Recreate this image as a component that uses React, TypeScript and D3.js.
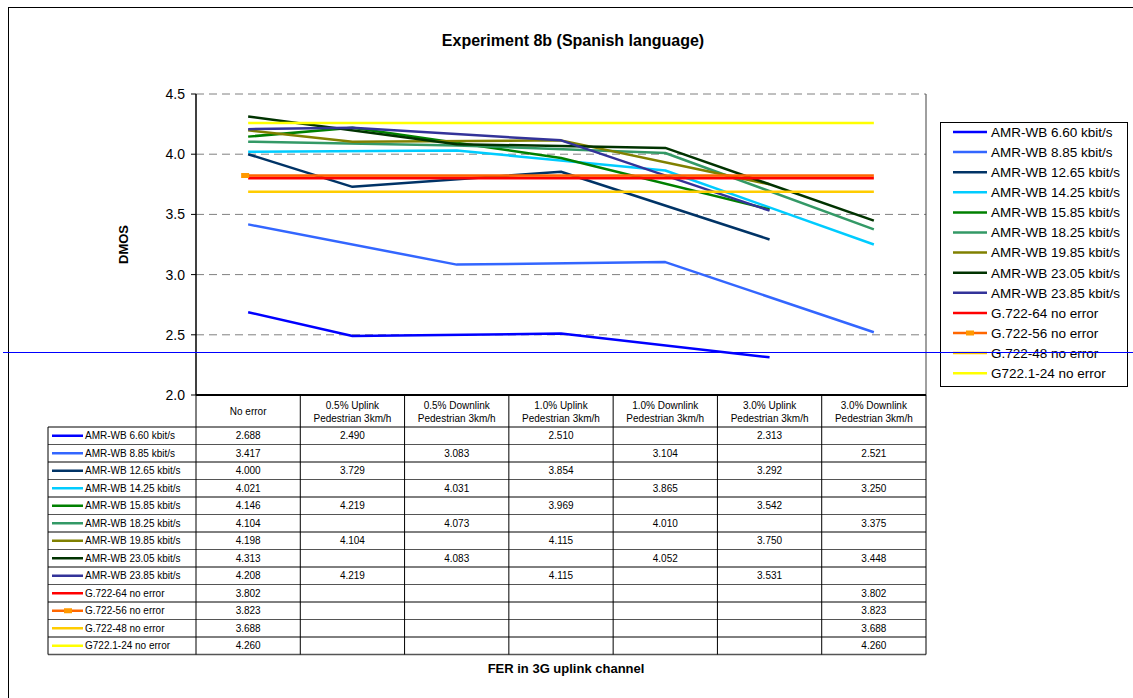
import React from "react";
import * as d3 from "d3";

const catLine1 = ["No error", "0.5% Uplink", "0.5% Downlink", "1.0% Uplink", "1.0% Downlink", "3.0% Uplink", "3.0% Downlink"];
const catLine2 = ["", "Pedestrian 3km/h", "Pedestrian 3km/h", "Pedestrian 3km/h", "Pedestrian 3km/h", "Pedestrian 3km/h", "Pedestrian 3km/h"];

const seriesNames = [
  "AMR-WB 6.60 kbit/s",
  "AMR-WB 8.85 kbit/s",
  "AMR-WB 12.65 kbit/s",
  "AMR-WB 14.25 kbit/s",
  "AMR-WB 15.85 kbit/s",
  "AMR-WB 18.25 kbit/s",
  "AMR-WB 19.85 kbit/s",
  "AMR-WB 23.05 kbit/s",
  "AMR-WB 23.85 kbit/s",
  "G.722-64 no error",
  "G.722-56 no error",
  "G.722-48 no error",
  "G722.1-24 no error",
];

const seriesColors = [
  "#0000FF", "#3366FF", "#003366", "#00CCFF", "#008000", "#339966", "#808000",
  "#003300", "#333399", "#FF0000", "#FF6600", "#FFCC00", "#FFFF00",
];

const N = null;
const amr660 = [2.688, 2.490, N, 2.510, N, 2.313, N];
const amr885 = [3.417, N, 3.083, N, 3.104, N, 2.521];
const amr1265 = [4.000, 3.729, N, 3.854, N, 3.292, N];
const amr1425 = [4.021, N, 4.031, N, 3.865, N, 3.250];
const amr1585 = [4.146, 4.219, N, 3.969, N, 3.542, N];
const amr1825 = [4.104, N, 4.073, N, 4.010, N, 3.375];
const amr1985 = [4.198, 4.104, N, 4.115, N, 3.750, N];
const amr2305 = [4.313, N, 4.083, N, 4.052, N, 3.448];
const amr2385 = [4.208, 4.219, N, 4.115, N, 3.531, N];
const g722_64 = [3.802, N, N, N, N, N, 3.802];
const g722_56 = [3.823, N, N, N, N, N, 3.823];
const g722_48 = [3.688, N, N, N, N, N, 3.688];
const g7221_24 = [4.260, N, N, N, N, N, 4.260];

const seriesValues = [amr660, amr885, amr1265, amr1425, amr1585, amr1825, amr1985, amr2305, amr2385, g722_64, g722_56, g722_48, g7221_24];

const yTicks = [2.0, 2.5, 3.0, 3.5, 4.0, 4.5];

const FONT = "'Liberation Sans', Arial, sans-serif";

export default function App() {
  const plotL = 196, plotR = 926, plotT = 94, plotB = 395;
  const y = d3.scaleLinear().domain([2.0, 4.5]).range([plotB, plotT]);
  const xBand = d3.scaleBand<number>().domain(d3.range(catLine1.length)).range([plotL, plotR]).paddingInner(0).paddingOuter(0);
  const xc = (i: number) => (xBand(i) as number) + xBand.bandwidth() / 2;

  const tableL = 48, headB = 427, rowH = 17.5;
  const tableB = headB + rowH * seriesNames.length;
  const colEdges = d3.range(catLine1.length + 1).map((i) => plotL + i * xBand.bandwidth());

  const lineGen = d3.line<[number, number]>().x((d) => xc(d[0])).y((d) => y(d[1]));

  const legendX = 940, legendY = 122, legendW = 187, legendH = 264;
  const legendStep = 20.1;

  return (
    <svg width={1133} height={698} style={{ position: "absolute", left: 0, top: 0, background: "#fff" }} fontFamily={FONT}>
      <rect x={0} y={0} width={1133} height={698} fill="#fff" />
      <rect x={8.5} y={7.5} width={1140} height={720} fill="none" stroke="#000" strokeWidth={1} />

      <text x={573} y={46} textAnchor="middle" fontSize={16} fontWeight="bold">Experiment 8b (Spanish language)</text>

      {/* gridlines */}
      {yTicks.filter((t) => t > 2.0).map((t) => (
        <line key={"g" + t} x1={plotL} x2={plotR} y1={y(t)} y2={y(t)} stroke="#808080" strokeWidth={1} strokeDasharray="8,5" />
      ))}
      {/* right border of plot */}
      <line x1={plotR} x2={plotR} y1={plotT} y2={plotB} stroke="#404040" strokeWidth={1} />

      {/* y axis */}
      <line x1={plotL} x2={plotL} y1={plotT} y2={plotB} stroke="#000" strokeWidth={1.5} />
      {yTicks.map((t) => (
        <g key={"t" + t}>
          <line x1={plotL - 5} x2={plotL} y1={y(t)} y2={y(t)} stroke="#000" strokeWidth={1} />
          <text x={plotL - 11} y={y(t)} dy="0.36em" textAnchor="end" fontSize={14}>{t.toFixed(1)}</text>
        </g>
      ))}
      <text transform={`translate(128,${(plotT + plotB) / 2}) rotate(-90)`} textAnchor="middle" fontSize={13} fontWeight="bold">DMOS</text>

      {/* series lines */}
      {seriesValues.map((vals, si) => {
        const pts: [number, number][] = vals.map((v, i) => [i, v] as [number, number | null]).filter((p) => p[1] != null) as [number, number][];
        return (
          <path key={"s" + si} d={lineGen(pts) || ""} fill="none" stroke={seriesColors[si]} strokeWidth={si === 9 ? 3 : 2.5} strokeLinejoin="round" />
        );
      })}
      {/* G.722-56 marker at first point */}
      <rect x={xc(0) - 7} y={y(g722_56[0] as number) - 2.5} width={8} height={5} fill="#FF9900" />

      {/* x axis line */}
      <line x1={plotL} x2={plotR} y1={plotB} y2={plotB} stroke="#000" strokeWidth={2} />

      {/* table header */}
      {catLine1.map((c, i) => (
        <g key={"h" + i}>
          {catLine2[i] === "" ? (
            <text x={xc(i)} y={(plotB + headB) / 2} dy="0.35em" textAnchor="middle" fontSize={10}>{c}</text>
          ) : (
            <>
              <text x={xc(i)} y={405} dy="0.35em" textAnchor="middle" fontSize={10}>{c}</text>
              <text x={xc(i)} y={418} dy="0.35em" textAnchor="middle" fontSize={10}>{catLine2[i]}</text>
            </>
          )}
        </g>
      ))}
      {colEdges.map((xe, i) => (
        <line key={"hc" + i} x1={xe} x2={xe} y1={plotB} y2={headB} stroke="#000" strokeWidth={1} />
      ))}

      {/* table body */}
      {d3.range(seriesNames.length + 1).map((r) => (
        <line key={"rl" + r} x1={tableL} x2={plotR} y1={headB + r * rowH} y2={headB + r * rowH} stroke={r % 2 === 0 ? "#000" : "#555"} strokeWidth={r === seriesNames.length ? 1.5 : 1} />
      ))}
      {[tableL, ...colEdges].map((xe, i) => (
        <line key={"bc" + i} x1={xe} x2={xe} y1={headB} y2={tableB} stroke="#000" strokeWidth={1} />
      ))}
      {seriesNames.map((name, si) => {
        const cy = headB + si * rowH + rowH / 2;
        return (
          <g key={"row" + si}>
            <line x1={52} x2={83} y1={cy} y2={cy} stroke={seriesColors[si]} strokeWidth={2.5} />
            {si === 10 && <rect x={64} y={cy - 2.5} width={8} height={5} fill="#FF9900" />}
            <text x={85} y={cy} dy="0.35em" fontSize={10}>{name}</text>
            {seriesValues[si].map((v, i) => v == null ? null : (
              <text key={"v" + i} x={xc(i)} y={cy} dy="0.35em" textAnchor="middle" fontSize={10}>{v.toFixed(3)}</text>
            ))}
          </g>
        );
      })}

      <text x={566} y={668} dy="0.35em" textAnchor="middle" fontSize={13} fontWeight="bold">FER in 3G uplink channel</text>

      {/* legend */}
      <rect x={legendX + 0.5} y={legendY + 0.5} width={legendW} height={legendH} fill="#fff" stroke="#000" strokeWidth={1} />
      {seriesNames.map((name, si) => {
        const cy = 132 + si * legendStep;
        return (
          <g key={"lg" + si}>
            <line x1={953} x2={987} y1={cy} y2={cy} stroke={seriesColors[si]} strokeWidth={2.5} />
            {si === 10 && <rect x={966} y={cy - 2.5} width={8} height={5} fill="#FF9900" />}
            <text x={991} y={cy} dy="0.36em" fontSize={13.5}>{name}</text>
          </g>
        );
      })}

      {/* stray horizontal line present in the reference */}
      <line x1={3} x2={1133} y1={352.5} y2={352.5} stroke="#0000FF" strokeWidth={1} />
    </svg>
  );
}
